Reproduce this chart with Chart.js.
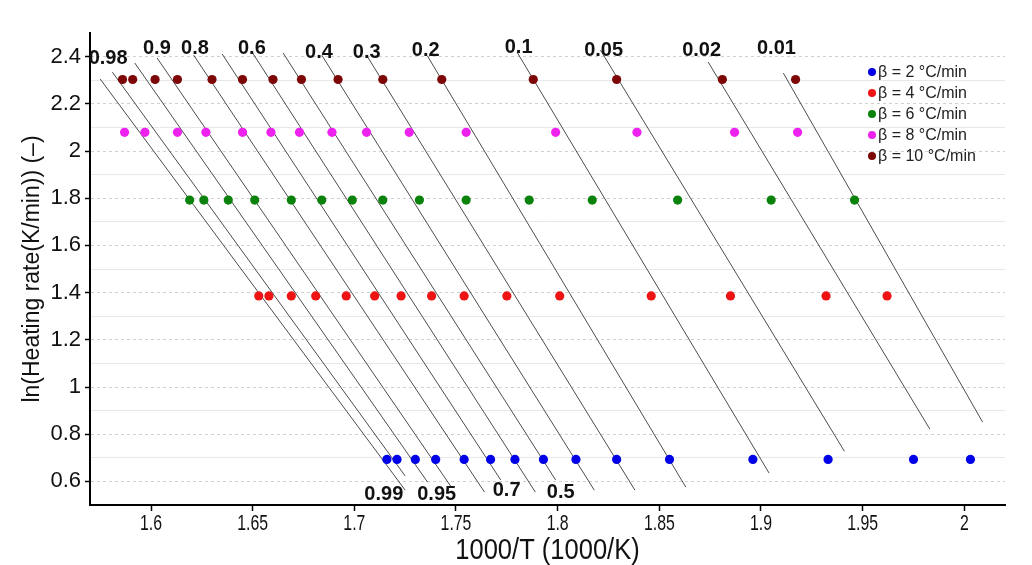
<!DOCTYPE html>
<html>
<head>
<meta charset="utf-8">
<script src="https://cdn.jsdelivr.net/npm/chart.js@4/dist/chart.umd.min.js"></script>
<style>
  body { margin: 0; background: #fff; }
</style>
</head>
<body>
<canvas id="kas" width="1032" height="565"></canvas>
<script>
// heating rates (°C/min) and ln(beta) of each series
const heatingRates = [2, 4, 6, 8, 10]
const lnRates = [0.693, 1.386, 1.792, 2.079, 2.303]

// conversion levels, same order as the 1000/T values below
const conversions = [0.99, 0.98, 0.95, 0.9, 0.8, 0.7, 0.6, 0.5, 0.4, 0.3, 0.2, 0.1, 0.05, 0.02, 0.01]

// 1000/T at each conversion for every heating rate
const invT2 = [1.716, 1.721, 1.730, 1.740, 1.754, 1.767, 1.779, 1.793, 1.809, 1.829, 1.855, 1.896, 1.933, 1.975, 2.003]
const invT4 = [1.653, 1.658, 1.669, 1.681, 1.696, 1.710, 1.723, 1.738, 1.754, 1.775, 1.801, 1.846, 1.885, 1.932, 1.962]
const invT6 = [1.619, 1.626, 1.638, 1.651, 1.669, 1.684, 1.699, 1.714, 1.732, 1.755, 1.786, 1.817, 1.859, 1.905, 1.946]
const invT8 = [1.587, 1.597, 1.613, 1.627, 1.645, 1.659, 1.673, 1.689, 1.706, 1.727, 1.755, 1.799, 1.839, 1.887, 1.918]
const invT10 = [1.586, 1.591, 1.602, 1.613, 1.630, 1.645, 1.660, 1.674, 1.692, 1.714, 1.743, 1.788, 1.829, 1.881, 1.917]

// iso-conversional fit lines: start and end (1000/T, ln beta)
const fitX1 = [1.575, 1.581, 1.592, 1.603, 1.621, 1.635, 1.650, 1.665, 1.684, 1.706, 1.736, 1.780, 1.821, 1.874, 1.911]
const fitY1 = [2.305, 2.334, 2.373, 2.394, 2.406, 2.411, 2.415, 2.415, 2.406, 2.406, 2.402, 2.419, 2.428, 2.377, 2.330]
const fitX2 = [1.725, 1.725, 1.736, 1.748, 1.764, 1.772, 1.789, 1.799, 1.818, 1.838, 1.863, 1.904, 1.941, 1.983, 2.009]
const fitY2 = [0.563, 0.623, 0.597, 0.572, 0.555, 0.606, 0.555, 0.606, 0.563, 0.563, 0.576, 0.635, 0.728, 0.822, 0.851]

// where each conversion label sits
const labelX = [1.7145, 1.5789, 1.7405, 1.6029, 1.6216, 1.7749, 1.6496, 1.8015, 1.6826, 1.7061, 1.7351, 1.7808, 1.8226, 1.8708, 1.9076]
const labelY = [0.546, 2.394, 0.546, 2.436, 2.436, 0.563, 2.436, 0.555, 2.419, 2.419, 2.428, 2.440, 2.428, 2.428, 2.436]

const xTicks = [1.6, 1.65, 1.7, 1.75, 1.8, 1.85, 1.9, 1.95, 2]
const yTicks = [0.6, 0.8, 1, 1.2, 1.4, 1.6, 1.8, 2, 2.2, 2.4]
const yMidLines = [0.7, 0.9, 1.1, 1.3, 1.5, 1.7, 1.9, 2.1, 2.3]

const invT = [invT2, invT4, invT6, invT8, invT10]
const seriesColors = ['#0000e8', '#ee1414', '#0b820b', '#ee22ee', '#7d0606']

const sans = '"Liberation Sans", Arial, sans-serif'

const pointSets = invT.map((xs, i) => ({
  label: `β = ${heatingRates[i]} °C/min`,
  data: xs.map(v => ({ x: v, y: lnRates[i] })),
  backgroundColor: seriesColors[i],
  borderColor: seriesColors[i],
  borderWidth: 0,
  pointRadius: 4.6,
  pointHoverRadius: 4.6,
  order: 1
}))

const fitSets = conversions.map((c, i) => ({
  label: String(c),
  data: [{ x: fitX1[i], y: fitY1[i] }, { x: fitX2[i], y: fitY2[i] }],
  showLine: true,
  borderColor: '#4d4d4d',
  borderWidth: 1,
  pointRadius: 0,
  pointHoverRadius: 0,
  order: 2
}))

// conversion numbers next to the fit lines
const conversionLabels = {
  id: 'conversionLabels',
  afterDatasetsDraw(chart) {
    const { ctx, scales } = chart
    ctx.save()
    ctx.font = `bold 20px ${sans}`
    ctx.fillStyle = '#111'
    ctx.textAlign = 'center'
    ctx.textBaseline = 'middle'
    conversions.forEach((c, i) => {
      ctx.fillText(String(c), scales.x.getPixelForValue(labelX[i]), scales.y.getPixelForValue(labelY[i]))
    })
    ctx.restore()
  }
}

// x tick labels and title in a condensed face (sans squeezed horizontally)
function narrowText(ctx, text, x, y, squeeze) {
  ctx.save()
  ctx.translate(x, y)
  ctx.scale(squeeze, 1)
  ctx.fillText(text, 0, 0)
  ctx.restore()
}

const narrowXAxis = {
  id: 'narrowXAxis',
  afterDraw(chart) {
    const { ctx, chartArea, scales: { x } } = chart
    ctx.save()
    ctx.fillStyle = '#111'
    ctx.textAlign = 'center'
    ctx.textBaseline = 'middle'
    ctx.font = `22px ${sans}`
    xTicks.forEach(v => narrowText(ctx, String(v), x.getPixelForValue(v), x.top + 19, 0.72))
    ctx.font = `29px ${sans}`
    narrowText(ctx, '1000/T (1000/K)', (chartArea.left + chartArea.right) / 2, x.top + 46, 0.88)
    ctx.restore()
  }
}

// small legend inside the plot, top right
const betaLegend = {
  id: 'betaLegend',
  afterDraw(chart) {
    const { ctx, chartArea } = chart
    const x0 = chartArea.right - 133
    const y0 = chartArea.top + 39
    ctx.save()
    ctx.font = `16px ${sans}`
    ctx.textBaseline = 'middle'
    pointSets.forEach((ds, i) => {
      const y = y0 + i * 21
      ctx.fillStyle = seriesColors[i]
      ctx.beginPath()
      ctx.arc(x0, y, 4, 0, Math.PI * 2)
      ctx.fill()
      ctx.fillStyle = '#222'
      ctx.fillText(ds.label, x0 + 6, y + 1)
    })
    ctx.restore()
  }
}

new Chart(document.getElementById('kas').getContext('2d'), {
  type: 'scatter',
  data: { datasets: [...pointSets, ...fitSets] },
  options: {
    responsive: false,
    animation: false,
    layout: { padding: { left: 0, right: 27, top: 33, bottom: 0 } },
    plugins: {
      legend: { display: false },
      tooltip: { enabled: false }
    },
    scales: {
      x: {
        type: 'linear',
        min: 1.57,
        max: 2.02,
        afterBuildTicks: s => { s.ticks = xTicks.map(v => ({ value: v })) },
        afterFit: s => { s.height = 60 },
        grid: { drawOnChartArea: false, tickLength: 6, tickColor: '#000', tickWidth: 1.5 },
        border: { color: '#000', width: 2 },
        ticks: { display: false }
      },
      y: {
        type: 'linear',
        position: 'left',
        min: 0.5,
        max: 2.5,
        afterBuildTicks: s => { s.ticks = yTicks.map(v => ({ value: v })) },
        afterFit: s => { s.width = 90 },
        grid: { color: '#d0d0d0', lineWidth: 1, tickLength: 5, tickColor: '#000', tickWidth: 1.5 },
        border: { color: '#000', width: 2, dash: [3, 3] },
        ticks: {
          color: '#111',
          font: { family: sans, size: 22 },
          padding: 4,
          callback: v => String(+v.toFixed(1))
        },
        title: {
          display: true,
          text: 'ln(Heating rate(K/min)) (–)',
          color: '#111',
          font: { family: sans, size: 23 },
          padding: { top: 19, bottom: 0 }
        }
      },
      yMid: {
        type: 'linear',
        position: 'left',
        min: 0.5,
        max: 2.5,
        afterBuildTicks: s => { s.ticks = yMidLines.map(v => ({ value: v })) },
        afterFit: s => { s.width = 0 },
        grid: { color: '#e8e8e8', lineWidth: 1, drawTicks: false },
        border: { display: false },
        ticks: { display: false }
      }
    }
  },
  plugins: [conversionLabels, narrowXAxis, betaLegend]
})
</script>
</body>
</html>
